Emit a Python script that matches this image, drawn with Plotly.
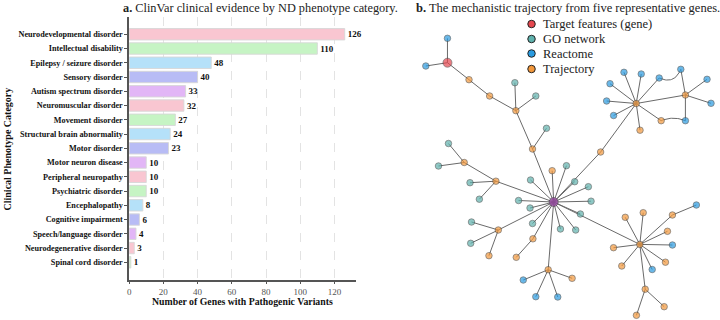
import numpy as np
import plotly.graph_objects as go

# ---------------- Panel a data ----------------
categories = [
    "Neurodevelopmental disorder", "Intellectual disability", "Epilepsy / seizure disorder",
    "Sensory disorder", "Autism spectrum disorder", "Neuromuscular disorder",
    "Movement disorder", "Structural brain abnormality", "Motor disorder",
    "Motor neuron disease", "Peripheral neuropathy", "Psychiatric disorder",
    "Encephalopathy", "Cognitive impairment", "Speech/language disorder",
    "Neurodegenerative disorder", "Spinal cord disorder",
]
gene_counts = [126, 110, 48, 40, 33, 32, 27, 24, 23, 10, 10, 10, 8, 6, 4, 3, 1]
x_ticks = [0, 20, 40, 60, 80, 100, 120]
palette = ["#f9c6d1", "#c6f4c4", "#b5e1f9", "#b8bcf5", "#e2b6f6"]

# ---------------- Panel b data (network, pixel layout) ----------------
node_type = ["T", "R", "R", "J", "J", "J", "G", "G", "J", "G",
             "P", "J", "G", "G", "J", "G", "G", "G", "J", "G",
             "G", "G", "G", "G", "G", "G", "G", "G", "G", "J",
             "J", "J", "G", "G", "J", "J", "R", "J", "R", "R",
             "J", "J", "R", "R", "R", "R", "R", "J", "R", "R",
             "R", "J", "J", "R", "R", "J", "J", "J", "J", "R",
             "J", "R", "J", "J", "R", "J", "J", "J", "J"]
node_x = [446.7, 446.7, 425.0, 468.3, 489.0, 515.3, 514.3, 535.3, 532.0, 546.0,
          553.2, 495.3, 469.3, 478.7, 463.5, 447.7, 437.7, 530.0, 551.7, 566.0,
          574.3, 588.0, 590.7, 518.0, 529.5, 580.0, 575.3, 560.0, 532.0, 532.4,
          515.7, 497.7, 470.8, 470.0, 488.3, 547.7, 522.7, 571.7, 535.3, 557.3,
          600.3, 636.0, 609.7, 623.7, 641.0, 659.0, 680.7, 685.3, 707.0, 711.0,
          685.3, 661.0, 639.8, 606.3, 613.3, 639.6, 625.0, 643.0, 672.3, 696.3,
          667.3, 672.3, 613.2, 621.5, 652.0, 665.3, 645.0, 664.0, 636.2]
node_y = [62.7, 38.3, 66.0, 79.7, 96.0, 110.7, 82.7, 96.0, 149.0, 128.3,
          202.0, 181.2, 182.7, 199.2, 162.5, 143.5, 166.0, 180.0, 170.7, 165.7,
          181.7, 186.7, 201.2, 200.5, 208.0, 214.0, 230.0, 229.0, 223.5, 238.8,
          257.3, 230.0, 222.0, 243.3, 255.7, 269.7, 280.0, 278.3, 296.7, 297.0,
          152.0, 103.5, 83.7, 72.3, 74.0, 78.0, 69.3, 95.0, 79.3, 103.3,
          120.7, 120.7, 130.2, 101.0, 115.5, 244.4, 217.3, 212.7, 215.0, 205.0,
          231.3, 245.0, 247.7, 266.0, 269.5, 262.2, 289.2, 306.7, 315.3]
edges = [(0, 1), (0, 2), (0, 3), (3, 4), (4, 5), (5, 6), (5, 7), (5, 8), (8, 9), (8, 10),
         (10, 11), (11, 12), (11, 13), (11, 14), (14, 15), (14, 16),
         (10, 17), (10, 18), (10, 19), (10, 20), (10, 21), (10, 22), (10, 23), (10, 24),
         (10, 25), (10, 26), (10, 27), (10, 28), (10, 29), (29, 30), (10, 31), (31, 32),
         (31, 33), (31, 34), (10, 35), (35, 36), (35, 37), (35, 38), (35, 39),
         (10, 40), (40, 41), (41, 42), (41, 43), (41, 44), (41, 45), (45, 46), (46, 47),
         (41, 47), (47, 48), (47, 49), (47, 50), (50, 51), (41, 51), (41, 52), (41, 53),
         (41, 54), (10, 55), (55, 56), (55, 57), (55, 58), (58, 59), (55, 60), (55, 61),
         (55, 62), (55, 63), (55, 64), (55, 65), (55, 66), (66, 67), (66, 68)]
edge_bend = {(45, 46): -6.0, (50, 51): -2.5}
legend_labels = ["Target features (gene)", "GO network", "Reactome", "Trajectory"]
legend_types = ["T", "G", "R", "J"]
type_color = {"T": "#e5474f", "G": "#5fb2ad", "R": "#2a9be0", "J": "#f3983b", "P": "#9a3fa6"}

W, H = 720, 320
SERIF = "Liberation Serif, Times New Roman, serif"

def px(x):
    return x / W

def py(y):
    return 1 - y / H

fig = go.Figure()

# ---------------- Panel a: bars ----------------
bar_colors = [palette[i % len(palette)] for i in range(len(categories))]
fig.add_trace(go.Bar(
    y=categories, x=gene_counts, orientation="h",
    marker=dict(color=bar_colors, line=dict(color="rgba(215,215,215,0.9)", width=1)),
    width=0.8,
    text=[str(v) for v in gene_counts], textposition="outside",
    textfont=dict(family=SERIF, size=9, color="#111"),
    texttemplate="<b>%{text}</b>",
    constraintext="none", cliponaxis=False,
    xaxis="x", yaxis="y", showlegend=False, hoverinfo="x+y",
))

# ---------------- Panel b: network ----------------
ex, ey = [], []
for (a, b) in edges:
    x0, y0, x1, y1 = node_x[a], node_y[a], node_x[b], node_y[b]
    bend = edge_bend.get((a, b), 0.0)
    if bend:
        mx, my = (x0 + x1) / 2, (y0 + y1) / 2
        dx, dy = x1 - x0, y1 - y0
        L = np.hypot(dx, dy)
        nx, ny = dy / L, -dx / L
        cx, cy = mx + 2 * bend * nx, my + 2 * bend * ny
        t = np.linspace(0, 1, 20)
        bx = (1 - t) ** 2 * x0 + 2 * (1 - t) * t * cx + t ** 2 * x1
        by = (1 - t) ** 2 * y0 + 2 * (1 - t) * t * cy + t ** 2 * y1
        ex += list(bx) + [None]
        ey += list(by) + [None]
    else:
        ex += [x0, x1, None]
        ey += [y0, y1, None]
fig.add_trace(go.Scatter(x=ex, y=ey, mode="lines", line=dict(color="#6a6a6a", width=1),
                         xaxis="x2", yaxis="y2", showlegend=False, hoverinfo="skip"))

big = [t in ("T", "P") for t in node_type]
fig.add_trace(go.Scatter(
    x=node_x, y=node_y, mode="markers",
    marker=dict(color=[type_color[t] for t in node_type],
                size=[9 if b else 6.5 for b in big],
                line=dict(color="#3a3a3a", width=0.7)),
    xaxis="x2", yaxis="y2", showlegend=False, hoverinfo="skip",
))

# manual legend
leg_y = [24, 39, 53.5, 69]
fig.add_trace(go.Scatter(
    x=[531] * 4, y=leg_y, mode="markers",
    marker=dict(color=[type_color[t] for t in legend_types], size=7.5,
                line=dict(color="#222", width=1)),
    xaxis="x2", yaxis="y2", showlegend=False, hoverinfo="skip",
))

annotations = []
for lab, yy in zip(legend_labels, leg_y):
    annotations.append(dict(x=px(541), y=py(yy), xref="paper", yref="paper", text=lab,
                            showarrow=False, xanchor="left", yanchor="middle",
                            font=dict(family=SERIF, size=12.5, color="#222")))

annotations += [
    dict(x=px(119), y=py(8), xref="paper", yref="paper", xanchor="left", yanchor="middle",
         text="<b>a.</b> ClinVar clinical evidence by ND phenotype category.", showarrow=False,
         font=dict(family=SERIF, size=12.3, color="#222")),
    dict(x=px(413), y=py(8), xref="paper", yref="paper", xanchor="left", yanchor="middle",
         text="<b>b.</b> The mechanistic trajectory from five representative genes.", showarrow=False,
         font=dict(family=SERIF, size=12.5, color="#222")),
    dict(x=px(241.5), y=py(301.5), xref="paper", yref="paper", xanchor="center", yanchor="middle",
         text="<b>Number of Genes with Pathogenic Variants</b>", showarrow=False,
         font=dict(family=SERIF, size=9.8, color="#111")),
    dict(x=px(6), y=py(148.5), xref="paper", yref="paper", xanchor="center", yanchor="middle",
         text="<b>Clinical Phenotype Category</b>", showarrow=False, textangle=-90,
         font=dict(family=SERIF, size=10, color="#111")),
]

n = len(categories)
fig.update_layout(
    width=W, height=H, margin=dict(l=0, r=0, t=0, b=0),
    paper_bgcolor="white", plot_bgcolor="rgba(0,0,0,0)",
    font=dict(family=SERIF),
    xaxis=dict(domain=[px(127.5), px(354.5)], range=[0, 132.3], tickvals=x_ticks,
               showgrid=True, gridcolor="#e3e3e3", griddash="dash", gridwidth=0.8,
               showline=True, linecolor="#555", linewidth=1.5, ticks="outside", ticklen=2,
               tickcolor="#555", tickfont=dict(family=SERIF, size=9, color="#555"),
               zeroline=False, fixedrange=True),
    yaxis=dict(domain=[py(280), py(17)], range=[n - 1 + 1.24, -1.21], type="category",
               categoryorder="array", categoryarray=categories,
               showgrid=False, showline=True, linecolor="#555", linewidth=1.5,
               ticks="outside", ticklen=3, tickcolor="#555",
               tickfont=dict(family=SERIF, size=8.2, color="#111", weight="bold"),
               fixedrange=True),
    xaxis2=dict(domain=[0, 1], range=[0, W], visible=False, fixedrange=True),
    yaxis2=dict(domain=[0, 1], range=[H, 0], visible=False, fixedrange=True),
    annotations=annotations,
    bargap=0.2,
)

fig.write_html("out.html")
